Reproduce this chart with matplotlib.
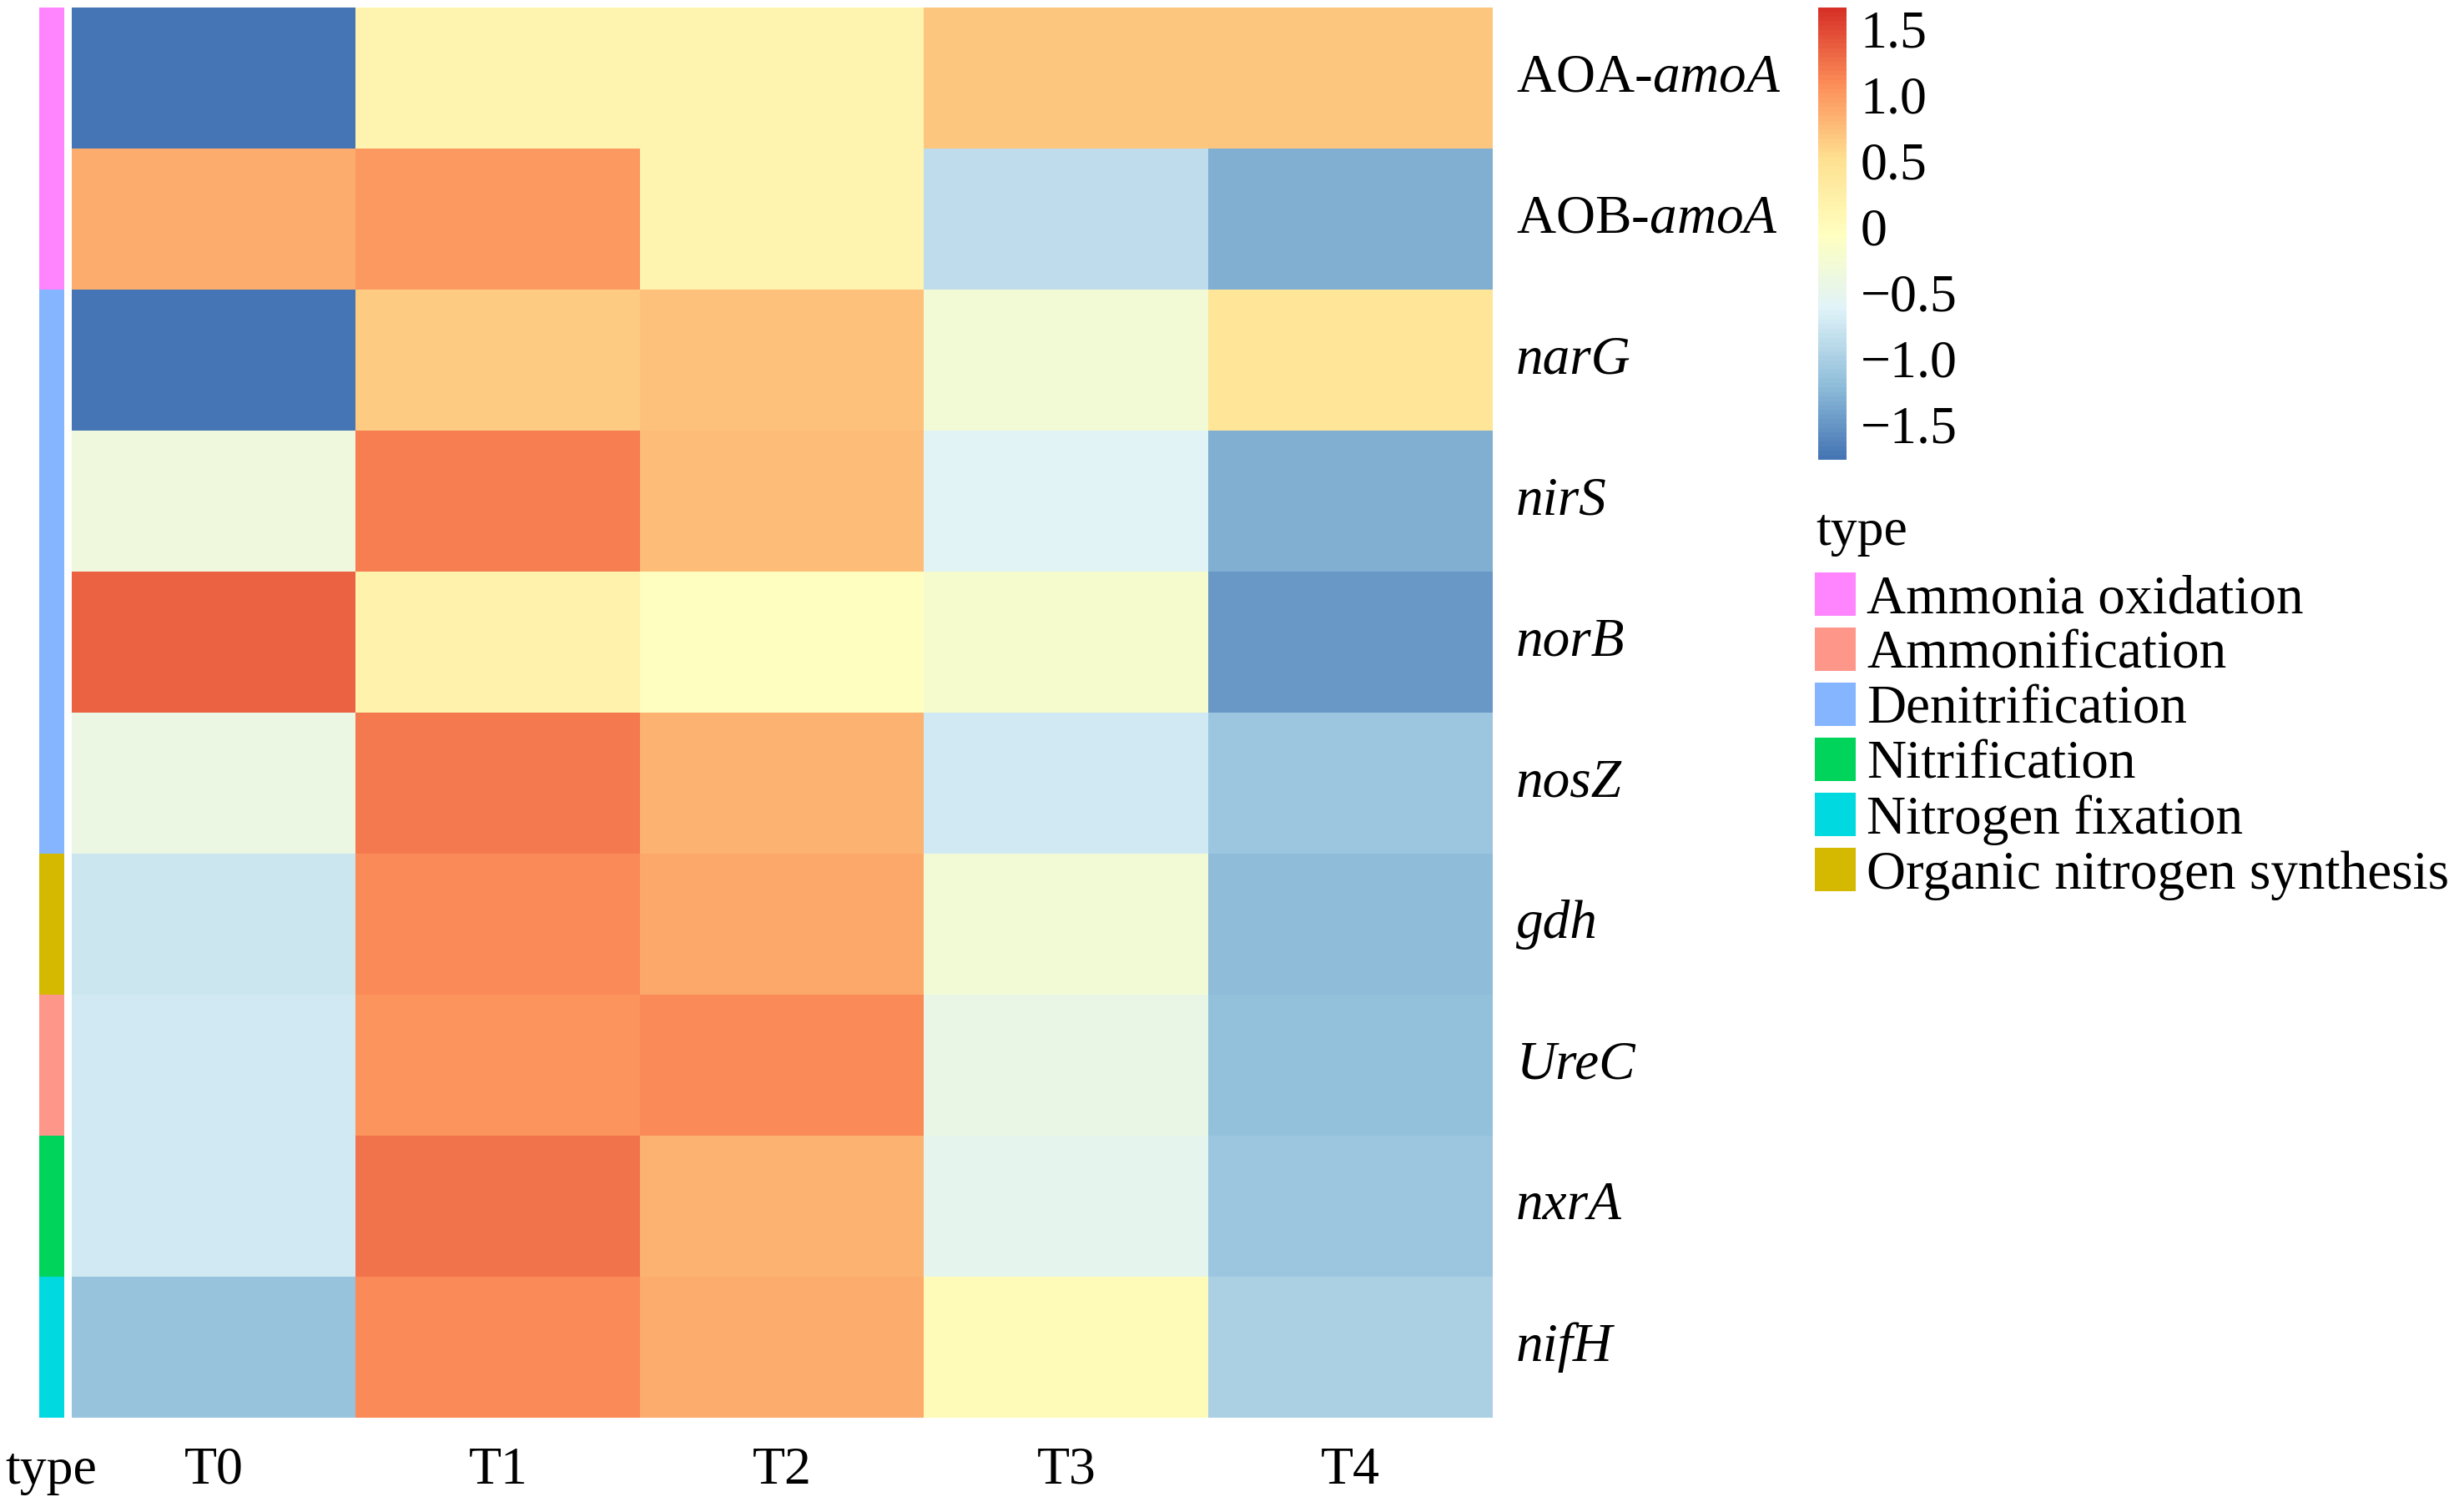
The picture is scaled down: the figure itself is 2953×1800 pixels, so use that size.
import numpy as np
import matplotlib
matplotlib.use("Agg")
import matplotlib.pyplot as plt
from matplotlib.colors import LinearSegmentedColormap, Normalize
from matplotlib.cm import ScalarMappable
from matplotlib.patches import Rectangle
import matplotlib.transforms as mtransforms

plt.rcParams['font.family'] = ['Liberation Serif', 'DejaVu Serif']
plt.rcParams['mathtext.fontset'] = 'custom'
plt.rcParams['mathtext.rm'] = 'Liberation Serif'
plt.rcParams['mathtext.it'] = 'Liberation Serif:italic'

# data (row-scaled values)
samples = ["T0", "T1", "T2", "T3", "T4"]
genes = ["AOA-amoA", "AOB-amoA", "narG", "nirS", "norB",
         "nosZ", "gdh", "UreC", "nxrA", "nifH"]
gene_labels = [r"AOA-$\mathit{amoA}$", r"AOB-$\mathit{amoA}$", "narG", "nirS", "norB",
               "nosZ", "gdh", "UreC", "nxrA", "nifH"]
italic_rows = [False, False, True, True, True, True, True, True, True, True]
gene_type = ["Ammonia oxidation", "Ammonia oxidation", "Denitrification", "Denitrification",
             "Denitrification", "Denitrification", "Organic nitrogen synthesis",
             "Ammonification", "Nitrification", "Nitrogen fixation"]

aoa_amoa = [-1.77, 0.13, 0.13, 0.68, 0.68]
aob_amoa = [0.84, 0.98, 0.12, -0.86, -1.31]
narg = [-1.74, 0.66, 0.71, -0.28, 0.42]
nirs = [-0.35, 1.16, 0.76, -0.59, -1.31]
norb = [1.34, 0.18, -0.08, -0.20, -1.49]
nosz = [-0.42, 1.18, 0.83, -0.71, -1.10]
gdh = [-0.76, 1.10, 0.88, -0.28, -1.20]
urec = [-0.71, 1.03, 1.09, -0.46, -1.16]
nxra = [-0.71, 1.24, 0.83, -0.52, -1.11]
nifh = [-1.15, 1.10, 0.84, 0.02, -0.99]
values = np.array([aoa_amoa, aob_amoa, narg, nirs, norb, nosz, gdh, urec, nxra, nifh])

legend_types = ["Ammonia oxidation", "Ammonification", "Denitrification",
                "Nitrification", "Nitrogen fixation", "Organic nitrogen synthesis"]
type_colors = {"Ammonia oxidation": "#FF85FF", "Ammonification": "#FF968A",
               "Denitrification": "#85B5FF", "Nitrification": "#00D45A",
               "Nitrogen fixation": "#00D9E0", "Organic nitrogen synthesis": "#D4B900"}

vmin, vmax = -1.77, 1.66
cbar_ticks = [-1.5, -1.0, -0.5, 0, 0.5, 1.0, 1.5]
cbar_labels = ["\u22121.5", "\u22121.0", "\u22120.5", "0", "0.5", "1.0", "1.5"]

W, H = 2953, 1800
fig = plt.figure(figsize=(W / 100, H / 100), dpi=100)


def px_axes(x0, y0, x1, y1):
    # pixel box (top-left origin) -> figure axes
    return fig.add_axes([x0 / W, 1 - y1 / H, (x1 - x0) / W, (y1 - y0) / H])


cmap = LinearSegmentedColormap.from_list(
    "rdylbu_rev", ["#4575B4", "#91BFDB", "#E0F3F8", "#FFFFBF", "#FEE090", "#FC8D59", "#D73027"], N=100)
norm = Normalize(vmin=vmin, vmax=vmax)

# heatmap
ax = px_axes(86, 9, 1789, 1699)
ax.imshow(values, cmap=cmap, norm=norm, aspect="auto", interpolation="nearest")
ax.set_xlim(-0.5, len(samples) - 0.5)
ax.set_ylim(len(genes) - 0.5, -0.5)
ax.axis("off")

row_tr = mtransforms.blended_transform_factory(ax.transAxes, ax.transData)
for i, lab in enumerate(gene_labels):
    ax.text(1 + 28 / 1703, i, lab, transform=row_tr, fontsize=47, va="center", ha="left",
            style="italic" if italic_rows[i] else "normal")

col_tr = mtransforms.blended_transform_factory(ax.transData, ax.transAxes)
for j, s in enumerate(samples):
    ax.text(j, -79 / 1690, s, transform=col_tr, fontsize=46, ha="center", va="baseline")

# annotation strip
ax_s = px_axes(47, 9, 77, 1699)
strip = np.array([[matplotlib.colors.to_rgb(type_colors[t])] for t in gene_type])
ax_s.imshow(strip, aspect="auto", interpolation="nearest")
ax_s.set_ylim(len(genes) - 0.5, -0.5)
ax_s.axis("off")
fig.text(6 / W, 1 - 1778 / H, "type", fontsize=46, ha="left", va="baseline")

# colorbar
cax = px_axes(2179, 9, 2213, 551)
cb = fig.colorbar(ScalarMappable(norm=norm, cmap=cmap), cax=cax, ticks=cbar_ticks)
cb.outline.set_visible(False)
cax.set_yticklabels(cbar_labels, fontsize=46)
cax.tick_params(length=0, pad=12)

# type legend
fig.text(2176 / W, 1 - 653 / H, "type", fontsize=46, ha="left", va="baseline")
for k, t in enumerate(legend_types):
    y_top = 686 + 66 * k
    fig.patches.append(Rectangle((2175 / W, 1 - (y_top + 52) / H), 49 / W, 52 / H,
                                 transform=fig.transFigure, facecolor=type_colors[t],
                                 edgecolor="none"))
    fig.text(2237 / W, 1 - (y_top + 26) / H, t, fontsize=47, ha="left", va="center_baseline")

fig.savefig("out.png", dpi=100, facecolor="white")
